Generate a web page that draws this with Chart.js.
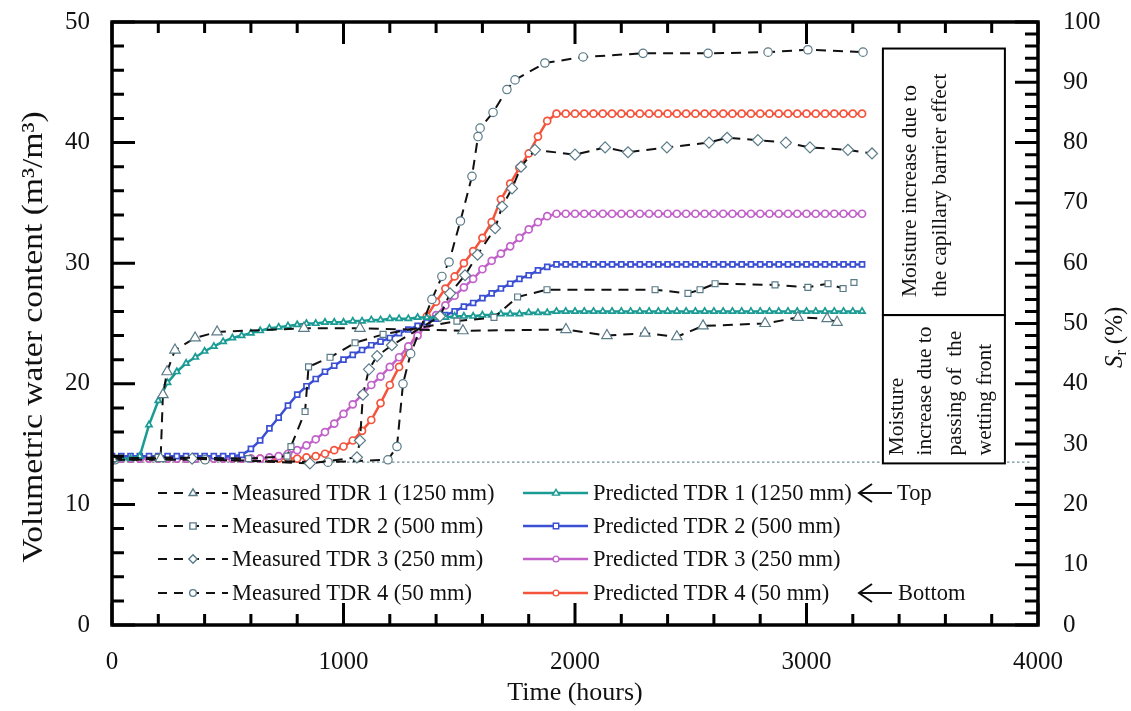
<!DOCTYPE html>
<html>
<head>
<meta charset="utf-8">
<script src="https://cdn.jsdelivr.net/npm/chart.js@4.4.1/dist/chart.umd.min.js"></script>
<style>
  html, body { margin: 0; padding: 0; background: #fff; }
  #wrap { width: 1131px; height: 711px; }
</style>
</head>
<body>
<div id="wrap"><canvas id="chart" width="1131" height="711"></canvas></div>
<script>
// axis limits
const timeRange = [0, 4000];
const thetaRange = [0, 50];
const srRange = [0, 100];
const baselineTheta = 13.5;

// measured TDR readings (hours, m3/m3 %)
const measTime1 = [0, 210, 220, 238, 272, 359, 454, 829, 1071, 1516, 1961, 2138, 2302, 2440, 2553, 2821, 2963, 3089, 3132];
const measTDR1 = [13.8, 13.8, 19.1, 21.0, 22.8, 23.8, 24.3, 24.6, 24.6, 24.4, 24.5, 24.0, 24.2, 23.9, 24.8, 25.0, 25.5, 25.4, 25.1];
const measTime2 = [0, 199, 590, 756, 773, 834, 849, 942, 1050, 1171, 1490, 1650, 1752, 1879, 2346, 2488, 2540, 2605, 2864, 3006, 3093, 3158, 3205];
const measTDR2 = [13.8, 13.9, 13.8, 14.0, 14.8, 17.7, 21.4, 22.2, 23.4, 24.1, 25.2, 25.5, 27.2, 27.8, 27.8, 27.5, 27.8, 28.3, 28.2, 28.0, 28.3, 27.9, 28.4];
const measTime3 = [0, 346, 855, 1058, 1071, 1084, 1110, 1145, 1209, 1417, 1460, 1525, 1579, 1655, 1685, 1728, 1767, 1827, 2000, 2130, 2229, 2397, 2579, 2657, 2790, 2911, 3015, 3179, 3283];
const measTDR3 = [13.7, 13.8, 13.4, 13.9, 15.3, 19.1, 21.2, 22.3, 23.2, 25.6, 27.5, 29.0, 30.7, 32.9, 34.7, 36.2, 38.0, 39.4, 39.0, 39.6, 39.2, 39.6, 40.0, 40.4, 40.2, 40.0, 39.6, 39.4, 39.1];
const measTime4 = [13, 402, 933, 1192, 1231, 1257, 1290, 1382, 1425, 1456, 1505, 1555, 1581, 1590, 1646, 1706, 1741, 1870, 2035, 2294, 2575, 2834, 3006, 3244];
const measTDR4 = [13.7, 13.7, 13.5, 13.7, 14.8, 20.0, 22.5, 27.0, 28.9, 30.1, 33.5, 37.2, 40.5, 41.2, 42.5, 44.4, 45.2, 46.6, 47.1, 47.4, 47.4, 47.5, 47.7, 47.5];

// predicted values, one every 40 h
const predTime = [0, 40, 80, 120, 160, 200, 240, 280, 320, 360, 400, 440, 480, 520, 560, 600, 640, 680, 720, 760,
  800, 840, 880, 920, 960, 1000, 1040, 1080, 1120, 1160, 1200, 1240, 1280, 1320, 1360, 1400, 1440, 1480, 1520, 1560,
  1600, 1640, 1680, 1720, 1760, 1800, 1840, 1880, 1920, 1960, 2000, 2040, 2080, 2120, 2160, 2200, 2240, 2280, 2320, 2360,
  2400, 2440, 2480, 2520, 2560, 2600, 2640, 2680, 2720, 2760, 2800, 2840, 2880, 2920, 2960, 3000, 3040, 3080, 3120, 3160,
  3200, 3240];
const predTDR1 = [13.8, 13.8, 13.8, 14.0, 16.6, 18.6, 20.1, 21.0, 21.7, 22.2, 22.7, 23.1, 23.5, 23.8, 24.0, 24.2, 24.4, 24.6, 24.7, 24.8,
  24.9, 25.0, 25.0, 25.1, 25.1, 25.1, 25.2, 25.2, 25.3, 25.3, 25.4, 25.4, 25.4, 25.5, 25.5, 25.5, 25.5, 25.6, 25.6, 25.6,
  25.7, 25.7, 25.8, 25.8, 25.8, 25.9, 25.9, 25.9, 26.0, 26.0, 26.0, 26.0, 26.0, 26.0, 26.0, 26.0, 26.0, 26.0, 26.0, 26.0,
  26.0, 26.0, 26.0, 26.0, 26.0, 26.0, 26.0, 26.0, 26.0, 26.0, 26.0, 26.0, 26.0, 26.0, 26.0, 26.0, 26.0, 26.0, 26.0, 26.0,
  26.0, 26.0];
const predTDR2 = [14.0, 14.0, 14.0, 14.0, 14.0, 14.0, 14.0, 14.0, 14.0, 14.0, 14.0, 14.0, 14.0, 14.0, 14.1, 14.6, 15.3, 16.3, 17.2, 18.2,
  19.1, 19.8, 20.4, 21.0, 21.5, 22.0, 22.4, 22.8, 23.2, 23.5, 23.8, 24.2, 24.5, 24.8, 25.1, 25.4, 25.7, 26.0, 26.4, 26.7,
  27.1, 27.5, 27.9, 28.3, 28.7, 29.0, 29.4, 29.7, 29.9, 29.9, 29.9, 29.9, 29.9, 29.9, 29.9, 29.9, 29.9, 29.9, 29.9, 29.9,
  29.9, 29.9, 29.9, 29.9, 29.9, 29.9, 29.9, 29.9, 29.9, 29.9, 29.9, 29.9, 29.9, 29.9, 29.9, 29.9, 29.9, 29.9, 29.9, 29.9,
  29.9, 29.9];
const predTDR3 = [13.8, 13.8, 13.8, 13.8, 13.8, 13.8, 13.8, 13.8, 13.8, 13.8, 13.8, 13.8, 13.8, 13.8, 13.8, 13.8, 13.8, 13.9, 14.0, 14.2,
  14.5, 14.9, 15.4, 16.0, 16.7, 17.5, 18.3, 19.1, 19.9, 20.6, 21.4, 22.2, 23.1, 24.0, 24.9, 25.7, 26.5, 27.3, 28.0, 28.7,
  29.5, 30.2, 30.8, 31.4, 32.1, 32.8, 33.4, 33.9, 34.1, 34.1, 34.1, 34.1, 34.1, 34.1, 34.1, 34.1, 34.1, 34.1, 34.1, 34.1,
  34.1, 34.1, 34.1, 34.1, 34.1, 34.1, 34.1, 34.1, 34.1, 34.1, 34.1, 34.1, 34.1, 34.1, 34.1, 34.1, 34.1, 34.1, 34.1, 34.1,
  34.1, 34.1];
const predTDR4 = [13.8, 13.8, 13.8, 13.8, 13.8, 13.8, 13.8, 13.8, 13.8, 13.8, 13.8, 13.8, 13.8, 13.8, 13.8, 13.8, 13.8, 13.8, 13.8, 13.8,
  13.8, 13.9, 14.0, 14.2, 14.5, 14.8, 15.3, 16.1, 17.0, 18.4, 19.9, 21.4, 22.9, 24.3, 25.6, 26.8, 27.9, 28.9, 30.0, 31.0,
  32.1, 33.4, 35.3, 36.6, 37.9, 39.1, 40.5, 41.8, 42.4, 42.4, 42.4, 42.4, 42.4, 42.4, 42.4, 42.4, 42.4, 42.4, 42.4, 42.4,
  42.4, 42.4, 42.4, 42.4, 42.4, 42.4, 42.4, 42.4, 42.4, 42.4, 42.4, 42.4, 42.4, 42.4, 42.4, 42.4, 42.4, 42.4, 42.4, 42.4,
  42.4, 42.4];

const measLabels = ['Measured TDR 1 (1250 mm)', 'Measured TDR 2 (500 mm)', 'Measured TDR 3 (250 mm)', 'Measured TDR 4 (50 mm)'];
const predLabels = ['Predicted TDR 1 (1250 mm)', 'Predicted TDR 2 (500 mm)', 'Predicted TDR 3 (250 mm)', 'Predicted TDR 4 (50 mm)'];
const noteUpper = ['Moisture increase due to', 'the capillary barrier effect'];
const noteLower = ['Moisture', 'increase due to', 'passing of  the', 'wetting front'];
const leftTitle = 'Volumetric water content (m³/m³)';

const serif = '"Liberation Serif", "Times New Roman", serif';
const markerEdge = '#5a7b88';
const predColors = ['#1a9b94', '#3b4fd3', '#c161c9', '#f4533c'];
const measShapes = ['triangle', 'rect', 'rectRot', 'circle'];
const measSizes = [6, 4.2, 5.5, 4.2];
const predShapes = ['triangle', 'rect', 'circle', 'circle'];

function pairs(xs, ys) {
  return xs.map((x, i) => ({ x: x, y: ys[i] }));
}

const measured = [[measTime1, measTDR1], [measTime2, measTDR2], [measTime3, measTDR3], [measTime4, measTDR4]];
const predicted = [predTDR1, predTDR2, predTDR3, predTDR4];

const datasets = [];
measured.forEach((m, i) => {
  datasets.push({
    label: measLabels[i],
    data: pairs(m[0], m[1]),
    borderColor: '#111',
    borderWidth: 2,
    borderDash: [10, 7],
    pointStyle: measShapes[i],
    pointRadius: measSizes[i],
    pointBackgroundColor: '#fff',
    pointBorderColor: markerEdge,
    pointBorderWidth: 1.2,
    tension: 0
  });
});
predicted.forEach((p, i) => {
  datasets.push({
    label: predLabels[i],
    data: pairs(predTime, p),
    borderColor: predColors[i],
    borderWidth: 2.5,
    pointStyle: predShapes[i],
    pointRadius: 3.5,
    pointBackgroundColor: '#fff',
    pointBorderColor: predColors[i],
    pointBorderWidth: 1.7,
    tension: 0
  });
});

function drawMarker(ctx, style, x, y, r, edge) {
  ctx.save();
  ctx.setLineDash([]);
  ctx.fillStyle = '#fff';
  ctx.strokeStyle = edge;
  ctx.lineWidth = 1.4;
  ctx.beginPath();
  if (style === 'triangle') {
    ctx.moveTo(x, y - r);
    ctx.lineTo(x + r * 0.95, y + r * 0.6);
    ctx.lineTo(x - r * 0.95, y + r * 0.6);
    ctx.closePath();
  } else if (style === 'rect') {
    ctx.rect(x - r * 0.75, y - r * 0.75, r * 1.5, r * 1.5);
  } else if (style === 'rectRot') {
    ctx.moveTo(x, y - r); ctx.lineTo(x + r, y); ctx.lineTo(x, y + r); ctx.lineTo(x - r, y); ctx.closePath();
  } else {
    ctx.arc(x, y, r * 0.8, 0, Math.PI * 2);
  }
  ctx.fill();
  ctx.stroke();
  ctx.restore();
}

function arrowLeft(ctx, x0, x1, y) {
  ctx.beginPath();
  ctx.moveTo(x1, y); ctx.lineTo(x0, y);
  ctx.moveTo(x0 + 13, y - 9); ctx.lineTo(x0, y); ctx.lineTo(x0 + 13, y + 9);
  ctx.stroke();
}

const decor = {
  id: 'decor',
  beforeDatasetsDraw(chart) {
    const { ctx, chartArea: a, scales } = chart;
    const yb = scales.y.getPixelForValue(baselineTheta);
    ctx.save();
    ctx.strokeStyle = '#6f8f9c';
    ctx.lineWidth = 1.2;
    ctx.setLineDash([2.5, 2.5]);
    ctx.beginPath();
    ctx.moveTo(a.left, yb);
    ctx.lineTo(a.right - 6, yb);
    ctx.stroke();
    ctx.restore();
  },
  afterDatasetsDraw(chart) {
    const { ctx, chartArea: a, scales } = chart;
    const xs = scales.x, ys = scales.y, y2 = scales.y2;
    ctx.save();
    ctx.strokeStyle = '#000';
    ctx.fillStyle = '#111';
    ctx.lineCap = 'butt';

    // ticks, pointing inwards
    ctx.lineWidth = 3;
    ctx.beginPath();
    for (let v = timeRange[0]; v <= timeRange[1]; v += 200) {
      const px = xs.getPixelForValue(v);
      const len = v % 1000 === 0 ? 22 : 11;
      ctx.moveTo(px, a.bottom); ctx.lineTo(px, a.bottom - len);
      ctx.moveTo(px, a.top); ctx.lineTo(px, a.top + len);
    }
    for (let v = thetaRange[0]; v <= thetaRange[1]; v += 2) {
      const py = ys.getPixelForValue(v);
      const len = v % 10 === 0 ? 23 : 12;
      ctx.moveTo(a.left, py); ctx.lineTo(a.left + len, py);
    }
    for (let v = srRange[0]; v <= srRange[1]; v += 2) {
      const py = y2.getPixelForValue(v);
      const len = v % 10 === 0 ? 23 : 13;
      ctx.moveTo(a.right, py); ctx.lineTo(a.right - len, py);
    }
    ctx.stroke();

    // frame
    ctx.lineWidth = 3.5;
    ctx.strokeRect(a.left, a.top, a.right - a.left, a.bottom - a.top);

    // annotation boxes
    const bx0 = xs.getPixelForValue(3330), bx1 = xs.getPixelForValue(3857);
    const by0 = ys.getPixelForValue(47.8), by1 = ys.getPixelForValue(25.7), by2 = ys.getPixelForValue(13.4);
    ctx.fillStyle = '#fff';
    ctx.fillRect(bx0, by0, bx1 - bx0, by2 - by0);
    ctx.lineWidth = 2;
    ctx.strokeRect(bx0, by0, bx1 - bx0, by1 - by0);
    ctx.strokeRect(bx0, by1, bx1 - bx0, by2 - by1);
    ctx.fillStyle = '#111';
    ctx.font = '21.5px ' + serif;
    ctx.textAlign = 'left';
    ctx.textBaseline = 'middle';
    [27, 57].forEach((dx, i) => {
      ctx.save();
      ctx.translate(bx0 + dx, by1 - 18);
      ctx.rotate(-Math.PI / 2);
      ctx.fillText(noteUpper[i], 0, 0);
      ctx.restore();
    });
    [14, 42, 72, 102].forEach((dx, i) => {
      ctx.save();
      ctx.translate(bx0 + dx, by2 - 8);
      ctx.rotate(-Math.PI / 2);
      ctx.fillText(noteLower[i], 0, 0);
      ctx.restore();
    });

    // legend inside the plot
    const rows = [493, 526, 559, 593];
    ctx.font = '22.5px ' + serif;
    rows.forEach((ry, i) => {
      const dm = chart.data.datasets[i];
      ctx.save();
      ctx.strokeStyle = '#111';
      ctx.lineWidth = 2;
      ctx.setLineDash([9, 7]);
      ctx.beginPath(); ctx.moveTo(158, ry); ctx.lineTo(228, ry); ctx.stroke();
      ctx.restore();
      drawMarker(ctx, dm.pointStyle, 193, ry, 4.2, markerEdge);
      ctx.fillStyle = '#111';
      ctx.fillText(dm.label, 232, ry + 1);

      const dp = chart.data.datasets[i + 4];
      ctx.save();
      ctx.strokeStyle = dp.borderColor;
      ctx.lineWidth = 2.5;
      ctx.beginPath(); ctx.moveTo(523, ry); ctx.lineTo(588, ry); ctx.stroke();
      ctx.restore();
      drawMarker(ctx, dp.pointStyle, 556, ry, 3.6, dp.borderColor);
      ctx.fillStyle = '#111';
      ctx.fillText(dp.label, 593, ry + 1);
    });
    ctx.strokeStyle = '#111';
    ctx.lineWidth = 2;
    arrowLeft(ctx, 859, 892, rows[0]);
    arrowLeft(ctx, 859, 892, rows[3]);
    ctx.fillText('Top', 897, rows[0] + 1);
    ctx.fillText('Bottom', 898, rows[3] + 1);

    // left axis title, a bit stretched like the original
    ctx.save();
    ctx.translate(34, 337);
    ctx.rotate(-Math.PI / 2);
    ctx.scale(1.12, 1);
    ctx.textAlign = 'center';
    ctx.textBaseline = 'middle';
    ctx.font = '30px ' + serif;
    ctx.fillText(leftTitle, 0, 0);
    ctx.restore();

    // right axis title: S_r (%)
    ctx.save();
    ctx.translate(1115, 368);
    ctx.rotate(-Math.PI / 2);
    ctx.textBaseline = 'middle';
    ctx.font = 'italic 25px ' + serif;
    ctx.fillText('S', 0, 0);
    let w = ctx.measureText('S').width;
    ctx.font = '16px ' + serif;
    ctx.fillText('r', w, 7);
    w += ctx.measureText('r').width + 6;
    ctx.font = '25px ' + serif;
    ctx.fillText('(%)', w, 0);
    ctx.restore();

    ctx.restore();
  }
};

const tickFont = { family: serif, size: 25 };

function fixV(width) {
  return s => { s.width = width; s.paddingTop = 0; s.paddingBottom = 0; };
}

new Chart(document.getElementById('chart'), {
  type: 'line',
  data: { datasets: datasets },
  options: {
    responsive: false,
    animation: false,
    layout: { padding: { top: 22, left: 0, right: 0, bottom: 0 } },
    plugins: { legend: { display: false }, tooltip: { enabled: false } },
    scales: {
      x: {
        type: 'linear',
        min: timeRange[0], max: timeRange[1],
        grid: { display: false, drawTicks: false },
        border: { display: false },
        ticks: { stepSize: 1000, padding: 22, color: '#111', font: tickFont, callback: v => String(v), maxRotation: 0 },
        title: { display: true, text: 'Time (hours)', color: '#111', font: { family: serif, size: 26 }, padding: { top: 0, bottom: 2 } },
        afterFit: s => { s.height = 86; s.paddingLeft = 0; s.paddingRight = 0; }
      },
      y: {
        position: 'left',
        min: thetaRange[0], max: thetaRange[1],
        grid: { display: false, drawTicks: false },
        border: { display: false },
        ticks: { stepSize: 10, padding: 22, color: '#111', font: tickFont },
        afterFit: fixV(112)
      },
      y2: {
        position: 'right',
        min: srRange[0], max: srRange[1],
        grid: { display: false, drawTicks: false },
        border: { display: false },
        ticks: { stepSize: 10, padding: 25, color: '#111', font: tickFont },
        afterFit: fixV(93)
      }
    }
  },
  plugins: [decor]
});
</script>
</body>
</html>
